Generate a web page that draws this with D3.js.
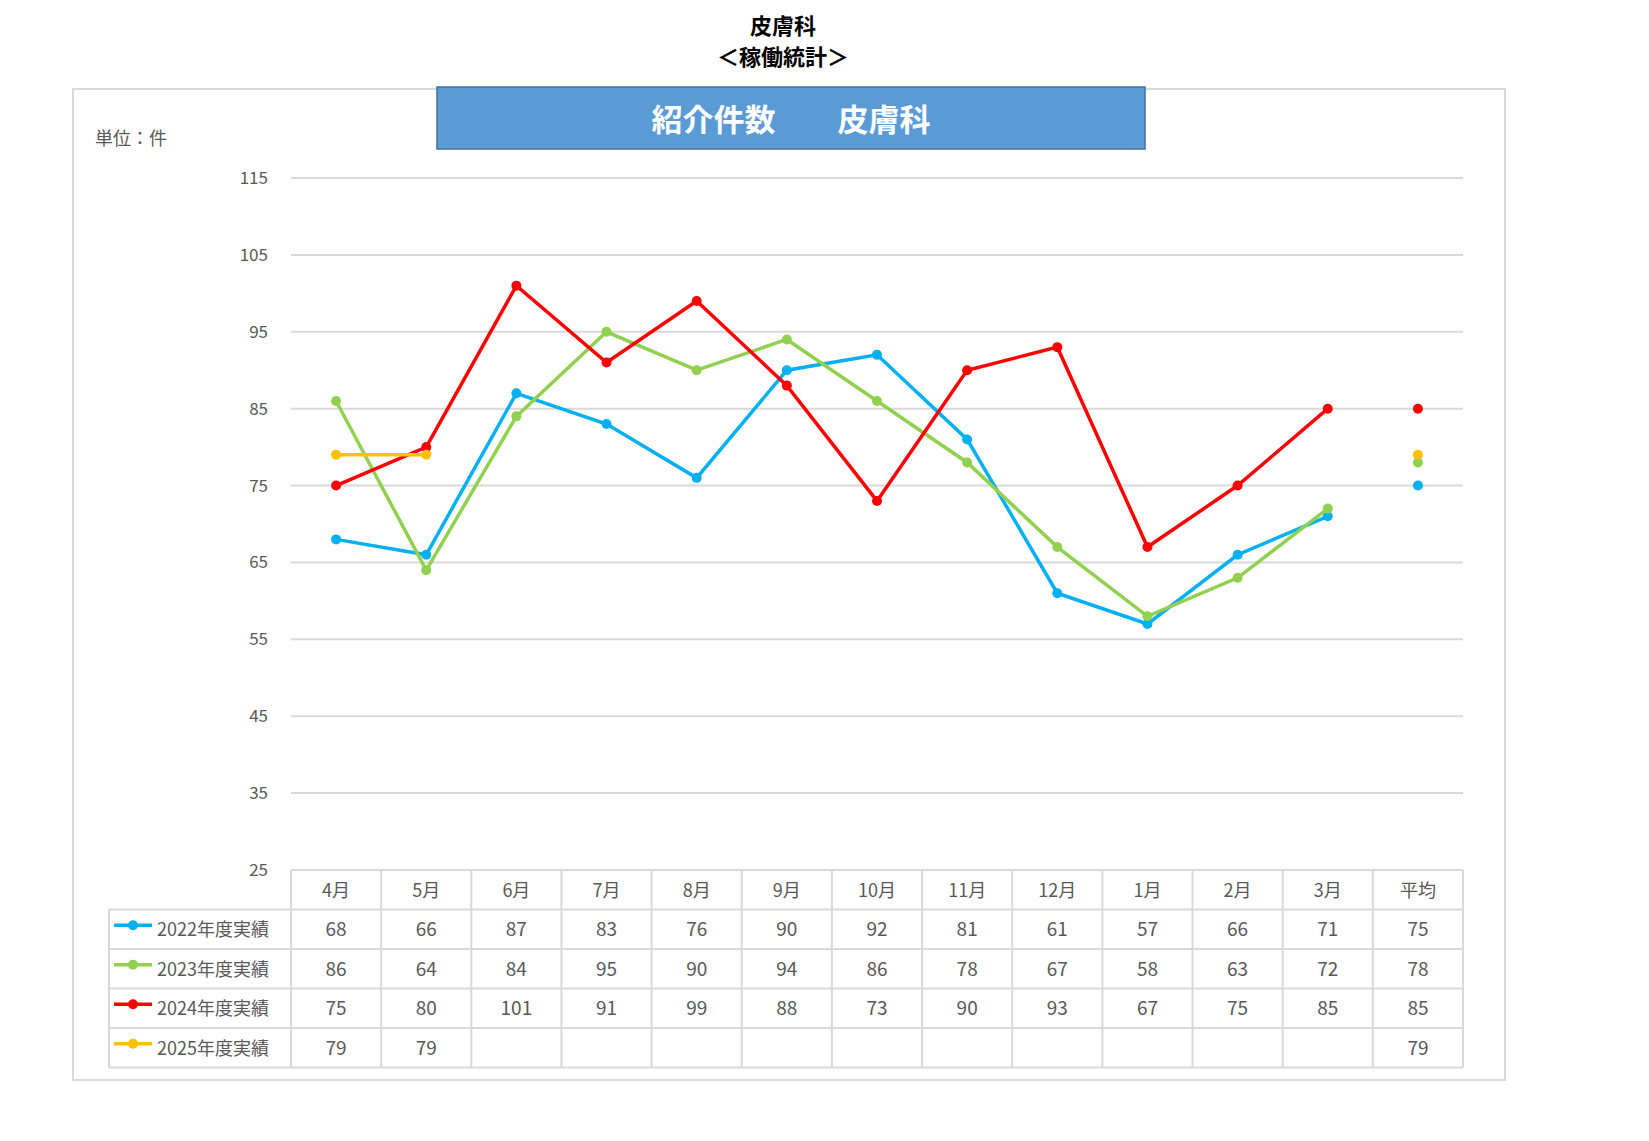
<!DOCTYPE html>
<html><head><meta charset="utf-8">
<script src="https://cdn.jsdelivr.net/npm/d3@7"></script>
<style>body{margin:0;background:#fff}text{font-family:"Noto Sans CJK JP","Noto Sans",sans-serif}</style>
</head><body><svg id="c" width="1649" height="1141"></svg>
<script>
const months=["4月","5月","6月","7月","8月","9月","10月","11月","12月","1月","2月","3月","平均"];
const seriesNames=["2022年度実績","2023年度実績","2024年度実績","2025年度実績"];
const colors=["#00B0F0","#92D050","#FF0000","#FFC000"];
const s2022=[68,66,87,83,76,90,92,81,61,57,66,71];
const s2023=[86,64,84,95,90,94,86,78,67,58,63,72];
const s2024=[75,80,101,91,99,88,73,90,93,67,75,85];
const s2025=[79,79];
const averages=[75,78,85,79];
const yTicks=[25,35,45,55,65,75,85,95,105,115];
const series=[s2022,s2023,s2024,s2025];

const svg=d3.select("#c");
const L=291,R=1463,T=178,B=870;
const x=d3.scaleBand().domain(months).range([L,R]);
const y=d3.scaleLinear().domain([25,115]).range([B,T]);
const cx=m=>x(m)+x.bandwidth()/2;

svg.append("text").attr("x",783).attr("y",34).attr("text-anchor","middle").attr("font-size",22).attr("font-weight","bold").text("皮膚科");
svg.append("text").attr("x",783).attr("y",65).attr("text-anchor","middle").attr("font-size",22).attr("font-weight","bold").text("＜稼働統計＞");
svg.append("rect").attr("x",73).attr("y",89).attr("width",1432).attr("height",991).attr("fill","none").attr("stroke","#d9d9d9").attr("stroke-width",2);
svg.append("rect").attr("x",437).attr("y",87).attr("width",708).attr("height",62).attr("fill","#5B9BD5").attr("stroke","#41719C").attr("stroke-width",1.5);
svg.append("text").attr("x",791).attr("y",131).attr("text-anchor","middle").attr("font-size",31).attr("font-weight","bold").attr("fill","#fff").text("紹介件数　　皮膚科");
svg.append("text").attr("x",95).attr("y",145).attr("font-size",18).attr("fill","#595959").text("単位：件");

svg.append("g").selectAll("line").data(yTicks.slice(1)).join("line")
 .attr("x1",L).attr("x2",R).attr("y1",d=>y(d)).attr("y2",d=>y(d)).attr("stroke","#d9d9d9").attr("stroke-width",2);
svg.append("g").selectAll("text").data(yTicks).join("text")
 .attr("x",268).attr("y",d=>y(d)+6).attr("text-anchor","end").attr("font-size",17).attr("fill","#595959").text(d=>d);

series.forEach((s,i)=>{
 const line=d3.line().x((d,j)=>cx(months[j])).y(d=>y(d));
 svg.append("path").attr("d",line(s)).attr("fill","none").attr("stroke",colors[i]).attr("stroke-width",3.5);
 svg.append("g").selectAll("circle").data(s).join("circle").attr("cx",(d,j)=>cx(months[j])).attr("cy",d=>y(d)).attr("r",5).attr("fill",colors[i]);
 svg.append("circle").attr("cx",cx("平均")).attr("cy",y(averages[i])).attr("r",5).attr("fill",colors[i]);
});

// table
const rowH=39.5, tTop=B, lx=109;
const g=svg.append("g").attr("stroke","#d9d9d9").attr("stroke-width",2);
g.append("line").attr("x1",L).attr("x2",R).attr("y1",tTop).attr("y2",tTop);
for(let r=1;r<=5;r++) g.append("line").attr("x1",r===1?lx:lx).attr("x2",R).attr("y1",tTop+r*rowH).attr("y2",tTop+r*rowH);
g.append("line").attr("x1",lx).attr("x2",lx).attr("y1",tTop+rowH).attr("y2",tTop+5*rowH);
months.forEach(m=>g.append("line").attr("x1",x(m)).attr("x2",x(m)).attr("y1",tTop).attr("y2",tTop+5*rowH));
g.append("line").attr("x1",R).attr("x2",R).attr("y1",tTop).attr("y2",tTop+5*rowH);
svg.append("g").selectAll("text").data(months).join("text").attr("x",cx).attr("y",tTop+rowH/2+7)
 .attr("text-anchor","middle").attr("font-size",18).attr("fill","#595959").text(d=>d);
series.forEach((s,i)=>{
 const yy=tTop+(i+1)*rowH+rowH/2;
 svg.append("line").attr("x1",114).attr("x2",152).attr("y1",yy-4).attr("y2",yy-4).attr("stroke",colors[i]).attr("stroke-width",3.5);
 svg.append("circle").attr("cx",133).attr("cy",yy-4).attr("r",5).attr("fill",colors[i]);
 svg.append("text").attr("x",157).attr("y",yy+7).attr("font-size",18).attr("fill","#595959").text(seriesNames[i]);
 const vals=s.concat(Array(12-s.length).fill(null)).concat([averages[i]]);
 vals.forEach((v,j)=>{ if(v!==null) svg.append("text").attr("x",cx(months[j])).attr("y",yy+7).attr("text-anchor","middle").attr("font-size",19).attr("fill","#595959").text(v);});
});
</script></body></html>
